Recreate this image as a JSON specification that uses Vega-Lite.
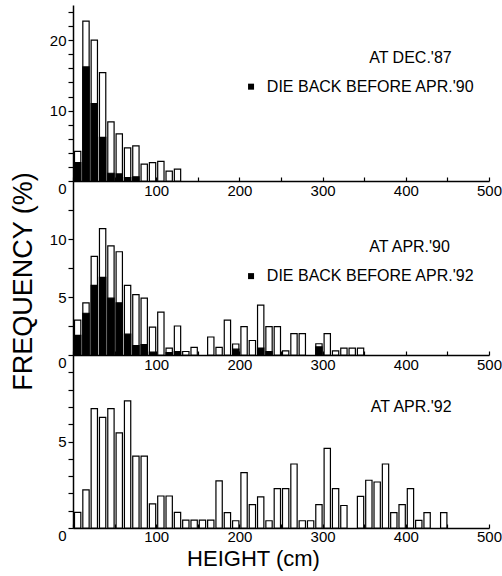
{
  "$schema": "https://vega.github.io/schema/vega-lite/v6.json",
  "autosize": {"type": "pad"},
  "padding": {"left": 8, "top": 5, "right": 5, "bottom": 5},
  "bounds": "flush",
  "spacing": 0,
  "config": {
    "view": {"stroke": null},
    "font": "Liberation Sans",
    "axis": {
      "grid": false,
      "domainColor": "black",
      "domainWidth": 1.5,
      "tickColor": "black",
      "tickWidth": 1.2,
      "labelColor": "black",
      "labelFont": "Liberation Sans",
      "labelFontSize": 15,
      "labelOverlap": false,
      "labelFlush": false,
      "titleColor": "black",
      "titleFont": "Liberation Sans",
      "titleFontWeight": "normal"
    },
    "text": {"font": "Liberation Sans"}
  },
  "datasets": {
    "p1": [
      {"x": 0, "x2": 10, "y": 4.2, "series": "total"},
      {"x": 10, "x2": 20, "y": 22.7, "series": "total"},
      {"x": 20, "x2": 30, "y": 20.0, "series": "total"},
      {"x": 30, "x2": 40, "y": 15.4, "series": "total"},
      {"x": 40, "x2": 50, "y": 8.4, "series": "total"},
      {"x": 50, "x2": 60, "y": 6.7, "series": "total"},
      {"x": 60, "x2": 70, "y": 4.7, "series": "total"},
      {"x": 70, "x2": 80, "y": 5.0, "series": "total"},
      {"x": 80, "x2": 90, "y": 2.4, "series": "total"},
      {"x": 90, "x2": 100, "y": 2.6, "series": "total"},
      {"x": 100, "x2": 110, "y": 2.8, "series": "total"},
      {"x": 110, "x2": 120, "y": 1.4, "series": "total"},
      {"x": 120, "x2": 130, "y": 1.7, "series": "total"},
      {"x": 0, "x2": 10, "y": 2.6, "series": "dieback"},
      {"x": 10, "x2": 20, "y": 16.2, "series": "dieback"},
      {"x": 20, "x2": 30, "y": 11.0, "series": "dieback"},
      {"x": 30, "x2": 40, "y": 6.2, "series": "dieback"},
      {"x": 40, "x2": 50, "y": 1.1, "series": "dieback"},
      {"x": 50, "x2": 60, "y": 1.0, "series": "dieback"},
      {"x": 60, "x2": 70, "y": 0.5, "series": "dieback"},
      {"x": 70, "x2": 80, "y": 0.6, "series": "dieback"}
    ],
    "p2": [
      {"x": 0, "x2": 10, "y": 3.0, "series": "total"},
      {"x": 10, "x2": 20, "y": 4.5, "series": "total"},
      {"x": 20, "x2": 30, "y": 8.5, "series": "total"},
      {"x": 30, "x2": 40, "y": 10.9, "series": "total"},
      {"x": 40, "x2": 50, "y": 9.4, "series": "total"},
      {"x": 50, "x2": 60, "y": 8.9, "series": "total"},
      {"x": 60, "x2": 70, "y": 6.0, "series": "total"},
      {"x": 70, "x2": 80, "y": 5.2, "series": "total"},
      {"x": 80, "x2": 90, "y": 4.9, "series": "total"},
      {"x": 90, "x2": 100, "y": 2.4, "series": "total"},
      {"x": 100, "x2": 110, "y": 3.7, "series": "total"},
      {"x": 110, "x2": 120, "y": 0.6, "series": "total"},
      {"x": 120, "x2": 130, "y": 2.5, "series": "total"},
      {"x": 130, "x2": 140, "y": 0.3, "series": "total"},
      {"x": 140, "x2": 150, "y": 0.65, "series": "total"},
      {"x": 160, "x2": 170, "y": 1.55, "series": "total"},
      {"x": 170, "x2": 180, "y": 0.65, "series": "total"},
      {"x": 180, "x2": 190, "y": 3.0, "series": "total"},
      {"x": 190, "x2": 200, "y": 0.95, "series": "total"},
      {"x": 200, "x2": 210, "y": 2.45, "series": "total"},
      {"x": 210, "x2": 220, "y": 1.25, "series": "total"},
      {"x": 220, "x2": 230, "y": 4.3, "series": "total"},
      {"x": 230, "x2": 240, "y": 2.45, "series": "total"},
      {"x": 240, "x2": 250, "y": 2.45, "series": "total"},
      {"x": 250, "x2": 260, "y": 0.35, "series": "total"},
      {"x": 260, "x2": 270, "y": 1.85, "series": "total"},
      {"x": 270, "x2": 280, "y": 1.85, "series": "total"},
      {"x": 290, "x2": 300, "y": 0.97, "series": "total"},
      {"x": 300, "x2": 310, "y": 1.85, "series": "total"},
      {"x": 310, "x2": 320, "y": 0.35, "series": "total"},
      {"x": 320, "x2": 330, "y": 0.6, "series": "total"},
      {"x": 330, "x2": 340, "y": 0.6, "series": "total"},
      {"x": 340, "x2": 350, "y": 0.6, "series": "total"},
      {"x": 0, "x2": 10, "y": 1.7, "series": "dieback"},
      {"x": 10, "x2": 20, "y": 3.6, "series": "dieback"},
      {"x": 20, "x2": 30, "y": 6.0, "series": "dieback"},
      {"x": 30, "x2": 40, "y": 6.7, "series": "dieback"},
      {"x": 40, "x2": 50, "y": 4.9, "series": "dieback"},
      {"x": 50, "x2": 60, "y": 4.5, "series": "dieback"},
      {"x": 60, "x2": 70, "y": 1.8, "series": "dieback"},
      {"x": 70, "x2": 80, "y": 0.8, "series": "dieback"},
      {"x": 80, "x2": 90, "y": 0.9, "series": "dieback"},
      {"x": 90, "x2": 100, "y": 0.25, "series": "dieback"},
      {"x": 110, "x2": 120, "y": 0.2, "series": "dieback"},
      {"x": 120, "x2": 130, "y": 0.3, "series": "dieback"},
      {"x": 190, "x2": 200, "y": 0.5, "series": "dieback"},
      {"x": 220, "x2": 230, "y": 0.6, "series": "dieback"},
      {"x": 230, "x2": 240, "y": 0.3, "series": "dieback"},
      {"x": 290, "x2": 300, "y": 0.7, "series": "dieback"}
    ],
    "p3": [
      {"x": 0, "x2": 10, "y": 0.9, "series": "total"},
      {"x": 10, "x2": 20, "y": 2.2, "series": "total"},
      {"x": 20, "x2": 30, "y": 6.9, "series": "total"},
      {"x": 30, "x2": 40, "y": 6.4, "series": "total"},
      {"x": 40, "x2": 50, "y": 6.9, "series": "total"},
      {"x": 50, "x2": 60, "y": 5.5, "series": "total"},
      {"x": 60, "x2": 70, "y": 7.35, "series": "total"},
      {"x": 70, "x2": 80, "y": 4.15, "series": "total"},
      {"x": 80, "x2": 90, "y": 4.15, "series": "total"},
      {"x": 90, "x2": 100, "y": 1.4, "series": "total"},
      {"x": 100, "x2": 110, "y": 1.85, "series": "total"},
      {"x": 110, "x2": 120, "y": 1.85, "series": "total"},
      {"x": 120, "x2": 130, "y": 0.9, "series": "total"},
      {"x": 130, "x2": 140, "y": 0.45, "series": "total"},
      {"x": 140, "x2": 150, "y": 0.45, "series": "total"},
      {"x": 150, "x2": 160, "y": 0.45, "series": "total"},
      {"x": 160, "x2": 170, "y": 0.45, "series": "total"},
      {"x": 170, "x2": 180, "y": 2.72, "series": "total"},
      {"x": 180, "x2": 190, "y": 0.89, "series": "total"},
      {"x": 190, "x2": 200, "y": 0.42, "series": "total"},
      {"x": 200, "x2": 210, "y": 3.2, "series": "total"},
      {"x": 210, "x2": 220, "y": 1.35, "series": "total"},
      {"x": 220, "x2": 230, "y": 1.8, "series": "total"},
      {"x": 230, "x2": 240, "y": 0.42, "series": "total"},
      {"x": 240, "x2": 250, "y": 2.28, "series": "total"},
      {"x": 250, "x2": 260, "y": 2.28, "series": "total"},
      {"x": 260, "x2": 270, "y": 3.7, "series": "total"},
      {"x": 270, "x2": 280, "y": 0.42, "series": "total"},
      {"x": 280, "x2": 290, "y": 0.42, "series": "total"},
      {"x": 290, "x2": 300, "y": 1.35, "series": "total"},
      {"x": 300, "x2": 310, "y": 4.6, "series": "total"},
      {"x": 310, "x2": 320, "y": 2.28, "series": "total"},
      {"x": 320, "x2": 330, "y": 1.3, "series": "total"},
      {"x": 340, "x2": 350, "y": 1.83, "series": "total"},
      {"x": 350, "x2": 360, "y": 2.76, "series": "total"},
      {"x": 360, "x2": 370, "y": 2.66, "series": "total"},
      {"x": 370, "x2": 380, "y": 3.7, "series": "total"},
      {"x": 380, "x2": 390, "y": 0.89, "series": "total"},
      {"x": 390, "x2": 400, "y": 1.35, "series": "total"},
      {"x": 400, "x2": 410, "y": 2.28, "series": "total"},
      {"x": 410, "x2": 420, "y": 0.44, "series": "total"},
      {"x": 420, "x2": 430, "y": 0.89, "series": "total"},
      {"x": 440, "x2": 450, "y": 0.89, "series": "total"}
    ],
    "t1": [
      {"x": 356, "y": 17.5, "label": "AT DEC.'87"},
      {"x": 233, "y": 13.4, "label": "DIE BACK BEFORE APR.'90"}
    ],
    "m1": [{"x": 214, "y": 13.4}],
    "t2": [
      {"x": 356, "y": 9.3, "label": "AT APR.'90"},
      {"x": 233, "y": 6.8, "label": "DIE BACK BEFORE APR.'92"}
    ],
    "m2": [{"x": 214, "y": 6.8}],
    "t3": [
      {"x": 358, "y": 7.0, "label": "AT APR.'92"}
    ]
  },
  "vconcat": [
    {
      "width": 416,
      "height": 176,
      "encoding": {
        "x": {"field": "x", "type": "quantitative",
          "scale": {"domain": [0, 500], "nice": false},
          "axis": {"title": null, "values": [0,50,100,150,200,250,300,350,400,450,500],
            "labelExpr": "datum.value % 100 == 0 && datum.value > 0 ? datum.label : ''",
            "tickSize": -4, "labelPadding": 6}},
        "y": {"field": "y", "type": "quantitative", "stack": null,
          "scale": {"domain": [0, 25], "nice": false},
          "axis": {"title": null, "values": [0,2,4,6,8,10,12,14,16,18,20,22,24],
            "labelExpr": "datum.value == 0 || datum.value == 10 || datum.value == 20 ? datum.label : ''",
            "labelBaseline": {"condition": {"test": "datum.value === 0", "value": "top"}, "value": "middle"},
            "tickSize": 5, "labelPadding": 2}}
      },
      "layer": [
        {
          "data": {"name": "p1"},
          "mark": {"type": "bar", "stroke": "black", "strokeWidth": 1.2, "binSpacing": 2},
          "encoding": {
            "x": {"field": "x", "type": "quantitative", "bin": "binned",
              "scale": {"domain": [0, 500], "nice": false},
              "axis": {"title": null, "values": [0,50,100,150,200,250,300,350,400,450,500],
                "labelExpr": "datum.value % 100 == 0 && datum.value > 0 ? datum.label : ''",
                "tickSize": -4, "labelPadding": 6}},
            "x2": {"field": "x2"},
            "fill": {"field": "series", "type": "nominal", "scale": {"domain": ["total", "dieback"], "range": ["white", "black"]}, "legend": null}
          }
        },
        {
          "data": {"name": "t1"},
          "mark": {"type": "text", "align": "left", "baseline": "middle", "fontSize": 16, "color": "black"},
          "encoding": {"text": {"field": "label"}}
        },
        {
          "data": {"name": "m1"},
          "mark": {"type": "square", "filled": true, "color": "black", "size": 36, "opacity": 1},
          "encoding": {}
        }
      ]
    },
    {
      "width": 416,
      "height": 174,
      "encoding": {
        "x": {"field": "x", "type": "quantitative",
          "scale": {"domain": [0, 500], "nice": false},
          "axis": {"title": null, "values": [0,50,100,150,200,250,300,350,400,450,500],
            "labelExpr": "datum.value % 100 == 0 && datum.value > 0 ? datum.label : ''",
            "tickSize": -4, "labelPadding": 6}},
        "y": {"field": "y", "type": "quantitative", "stack": null,
          "scale": {"domain": [0, 15], "nice": false},
          "axis": {"title": "FREQUENCY (%)", "values": [0,2.5,5,7.5,10,12.5],
            "labelExpr": "datum.value == 0 || datum.value == 5 || datum.value == 10 ? datum.label : ''",
            "labelBaseline": {"condition": {"test": "datum.value === 0", "value": "top"}, "value": "middle"},
            "tickSize": 5, "labelPadding": 2,
            "titleFontSize": 27, "titleX": -50, "titleY": 100, "titleBaseline": "middle", "titleAlign": "center", "titleAngle": -90}}
      },
      "layer": [
        {
          "data": {"name": "p2"},
          "mark": {"type": "bar", "stroke": "black", "strokeWidth": 1.2, "binSpacing": 2},
          "encoding": {
            "x": {"field": "x", "type": "quantitative", "bin": "binned",
              "scale": {"domain": [0, 500], "nice": false},
              "axis": {"title": null, "values": [0,50,100,150,200,250,300,350,400,450,500],
                "labelExpr": "datum.value % 100 == 0 && datum.value > 0 ? datum.label : ''",
                "tickSize": -4, "labelPadding": 6}},
            "x2": {"field": "x2"},
            "fill": {"field": "series", "type": "nominal", "scale": {"domain": ["total", "dieback"], "range": ["white", "black"]}, "legend": null}
          }
        },
        {
          "data": {"name": "t2"},
          "mark": {"type": "text", "align": "left", "baseline": "middle", "fontSize": 16, "color": "black"},
          "encoding": {"text": {"field": "label"}}
        },
        {
          "data": {"name": "m2"},
          "mark": {"type": "square", "filled": true, "color": "black", "size": 36, "opacity": 1},
          "encoding": {}
        }
      ]
    },
    {
      "width": 416,
      "height": 173,
      "encoding": {
        "x": {"field": "x", "type": "quantitative",
          "scale": {"domain": [0, 500], "nice": false},
          "axis": {"title": "HEIGHT (cm)", "values": [0,50,100,150,200,250,300,350,400,450,500],
            "labelExpr": "datum.value % 100 == 0 && datum.value > 0 ? datum.label : ''",
            "tickSize": -4, "labelPadding": 5,
            "titleFontSize": 22, "titleX": 180, "titleY": 30, "titleBaseline": "middle"}},
        "y": {"field": "y", "type": "quantitative", "stack": null,
          "scale": {"domain": [0, 10], "nice": false},
          "axis": {"title": null, "values": [0,1,2,3,4,5,6,7,8,9],
            "labelExpr": "datum.value == 0 || datum.value == 5 ? datum.label : ''",
            "labelBaseline": {"condition": {"test": "datum.value === 0", "value": "top"}, "value": "middle"},
            "tickSize": 5, "labelPadding": 2}}
      },
      "layer": [
        {
          "data": {"name": "p3"},
          "mark": {"type": "bar", "stroke": "black", "strokeWidth": 1.2, "binSpacing": 2},
          "encoding": {
            "x": {"field": "x", "type": "quantitative", "bin": "binned",
              "scale": {"domain": [0, 500], "nice": false},
              "axis": {"title": "HEIGHT (cm)", "values": [0,50,100,150,200,250,300,350,400,450,500],
                "labelExpr": "datum.value % 100 == 0 && datum.value > 0 ? datum.label : ''",
                "tickSize": -4, "labelPadding": 5,
                "titleFontSize": 22, "titleX": 180, "titleY": 30, "titleBaseline": "middle"}},
            "x2": {"field": "x2"},
            "fill": {"field": "series", "type": "nominal", "scale": {"domain": ["total", "dieback"], "range": ["white", "black"]}, "legend": null}
          }
        },
        {
          "data": {"name": "t3"},
          "mark": {"type": "text", "align": "left", "baseline": "middle", "fontSize": 16, "color": "black"},
          "encoding": {"text": {"field": "label"}}
        }
      ]
    }
  ]
}
